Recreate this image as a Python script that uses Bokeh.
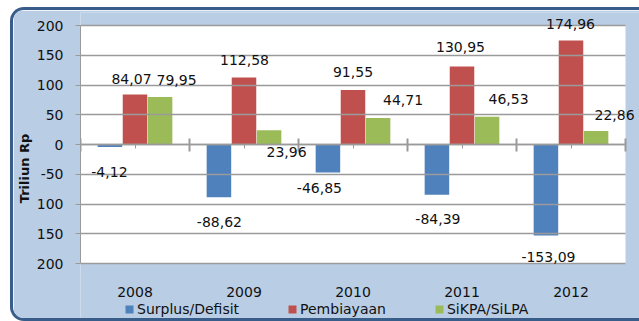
from bokeh.plotting import figure
from bokeh.models import (Range1d, FixedTicker, LinearAxis, Legend, LegendItem,
                          ColumnDataSource, LabelSet, BoxAnnotation)
from bokeh.core.properties import value
from bokeh.transform import dodge
from bokeh.embed import file_html
from bokeh.resources import INLINE

# --- data -----------------------------------------------------------------
years = ["2008", "2009", "2010", "2011", "2012"]
surplus_defisit = [-4.12, -88.62, -46.85, -84.39, -153.09]
pembiayaan = [84.07, 112.58, 91.55, 130.95, 174.96]
sikpa_silpa = [79.95, 23.96, 44.71, 46.53, 22.86]

y_ticks = [-200, -150, -100, -50, 0, 50, 100, 150, 200]
y_tick_labels = ["200", "150", "100", "-50", "0", "50", "100", "150", "200"]

# screen-pixel nudges for the value labels (dx to the right, dy upwards)
blue_dx = [-0.5, 0.5, -8.5, 1.0, 2.5]
blue_dy = [-25.5, -24.5, -16.0, -24.0, -21.0]
red_dx = [-3.5, 0.5, 0.0, -1.5, -0.5]
red_dy = [15.0, 18.0, 18.5, 20.0, 16.0]
green_dx = [16.5, 17.5, 25.0, 21.5, 18.5]
green_dy = [17.0, -22.0, 18.0, 18.0, 16.0]

# --- styling --------------------------------------------------------------
FONT = "DejaVu Sans"
BLUE, RED, GREEN = "#4F81BD", "#C0504D", "#9BBB59"
PANEL = "#B9CDE5"
EDGE = "#385D8A"
GRID = "#9A9A9A"
INK = "#111111"

n = len(years)
centers = [i + 0.5 for i in range(n)]
y_lo, y_hi = min(y_ticks), max(y_ticks)

# geometry (screen px): the drawing frame runs to the right and bottom edges of
# the panel, the white plot area sits inside it
W, H = 629, 314
LEFT, TOP = 67, 2
FRAME_W, FRAME_H = W - LEFT, H - TOP
AREA_W, AREA_H = 545, 238
PX_X = AREA_W / n                     # px per category
PX_Y = AREA_H / (y_hi - y_lo)         # px per unit
TOP_GAP = 13                          # frame top -> top gridline
x_end = FRAME_W / PX_X
y_end = y_hi + TOP_GAP / PX_Y
y_start = y_end - FRAME_H / PX_Y


def fmt(v):
    return f"{v:.2f}".replace(".", ",")


src = ColumnDataSource(dict(
    xc=centers,
    blue=surplus_defisit, red=pembiayaan, green=sikpa_silpa,
    blue_t=[fmt(v) for v in surplus_defisit],
    red_t=[fmt(v) for v in pembiayaan],
    green_t=[fmt(v) for v in sikpa_silpa],
    bdx=blue_dx, bdy=blue_dy, rdx=red_dx, rdy=red_dy, gdx=green_dx, gdy=green_dy,
))

p = figure(width=W, height=H,
           x_range=Range1d(0, x_end), y_range=Range1d(y_start, y_end),
           output_backend="svg", toolbar_location=None, x_axis_location=None,
           min_border_left=LEFT, min_border_right=0,
           min_border_top=TOP, min_border_bottom=0,
           border_fill_color=PANEL, background_fill_color=PANEL,
           outline_line_color=None)

p.styles = {
    "margin-left": "10px", "margin-top": "7px",
    "border-left": f"3px solid {EDGE}",
    "border-top": f"3px solid {EDGE}",
    "border-bottom": f"3px solid {EDGE}",
    "border-top-left-radius": "14px",
    "border-bottom-left-radius": "14px",
    "overflow": "hidden",
}

# white plot area
p.add_layout(BoxAnnotation(left=0, right=n, bottom=y_lo, top=y_hi,
                           fill_color="white", fill_alpha=1.0,
                           line_color=None, level="underlay"))

bw = 0.225
off = 0.23
r_blue = p.vbar(x=dodge("xc", -off, range=p.x_range), top="blue", bottom=0,
                width=bw, source=src, fill_color=BLUE, line_color=None)
r_red = p.vbar(x=dodge("xc", 0.0, range=p.x_range), top="red", bottom=0,
               width=bw, source=src, fill_color=RED, line_color=None)
r_green = p.vbar(x=dodge("xc", off, range=p.x_range), top="green", bottom=0,
                 width=bw, source=src, fill_color=GREEN, line_color=None)

label_style = dict(text_font=value(FONT), text_font_size="14px", text_color=INK,
                   text_align="center", text_baseline="middle", source=src)
p.add_layout(LabelSet(x=dodge("xc", -off, range=p.x_range), y="blue", text="blue_t",
                      x_offset="bdx", y_offset="bdy", **label_style))
p.add_layout(LabelSet(x=dodge("xc", 0.0, range=p.x_range), y="red", text="red_t",
                      x_offset="rdx", y_offset="rdy", **label_style))
p.add_layout(LabelSet(x=dodge("xc", off, range=p.x_range), y="green", text="green_t",
                      x_offset="gdx", y_offset="gdy", **label_style))

# horizontal gridlines beneath the bars
p.xgrid.visible = False
p.ygrid.ticker = FixedTicker(ticks=y_ticks)
p.ygrid.grid_line_color = GRID
p.ygrid.grid_line_width = 1.5
p.ygrid.level = "glyph"
p.ygrid.bounds = (y_lo, y_hi)
try:
    p.ygrid.cross_bounds = (0, n)
except AttributeError:
    pass

# value axis
ya = p.yaxis[0]
ya.ticker = FixedTicker(ticks=y_ticks)
ya.bounds = (y_lo, y_hi)
ya.major_label_overrides = {t: s for t, s in zip(y_ticks, y_tick_labels)}
ya.axis_line_color = GRID
ya.major_tick_line_color = GRID
ya.major_tick_out = 5
ya.major_tick_in = 0
ya.minor_tick_line_color = None
ya.major_label_standoff = 12
ya.major_label_text_font = FONT
ya.major_label_text_font_size = "14px"
ya.major_label_text_color = INK
ya.axis_label = "Triliun Rp"
ya.axis_label_text_font = FONT
ya.axis_label_text_font_size = "13px"
ya.axis_label_text_font_style = "bold"
ya.axis_label_text_color = INK
ya.axis_label_standoff = 2

# category axis line through zero, with ticks between and at the groups
bounds_ticks = list(range(n + 1))
za = LinearAxis(fixed_location=0, bounds=(0, n),
                ticker=FixedTicker(ticks=bounds_ticks, minor_ticks=centers))
za.major_label_overrides = {t: "" for t in bounds_ticks}
za.axis_line_color = GRID
za.axis_line_width = 1.5
za.major_tick_line_color = GRID
za.major_tick_line_width = 2
za.major_tick_in = 6
za.major_tick_out = 7
za.minor_tick_line_color = GRID
za.minor_tick_in = 0
za.minor_tick_out = 4
za.major_label_standoff = 0
p.add_layout(za, "below")

# year labels under the plot area
xa = LinearAxis(fixed_location=y_lo, ticker=FixedTicker(ticks=centers))
xa.major_label_overrides = {c: y for c, y in zip(centers, years)}
xa.axis_line_color = None
xa.major_tick_line_color = None
xa.minor_tick_line_color = None
xa.major_tick_out = 0
xa.major_tick_in = 0
xa.major_label_standoff = 23
xa.major_label_text_font = FONT
xa.major_label_text_font_size = "14px"
xa.major_label_text_color = INK
p.add_layout(xa, "below")

legend = Legend(items=[LegendItem(label="Surplus/Defisit", renderers=[r_blue]),
                       LegendItem(label="Pembiayaan", renderers=[r_red]),
                       LegendItem(label="SiKPA/SiLPA", renderers=[r_green])],
                orientation="horizontal", location=(44, 7),
                background_fill_alpha=0, border_line_color=None,
                glyph_width=10, glyph_height=10, label_standoff=3,
                spacing=48, padding=0, margin=0,
                label_text_font=FONT, label_text_font_size="14px",
                label_text_color=INK, label_height=14)
p.add_layout(legend, "center")

open("out.html", "w").write(file_html(p, INLINE))
